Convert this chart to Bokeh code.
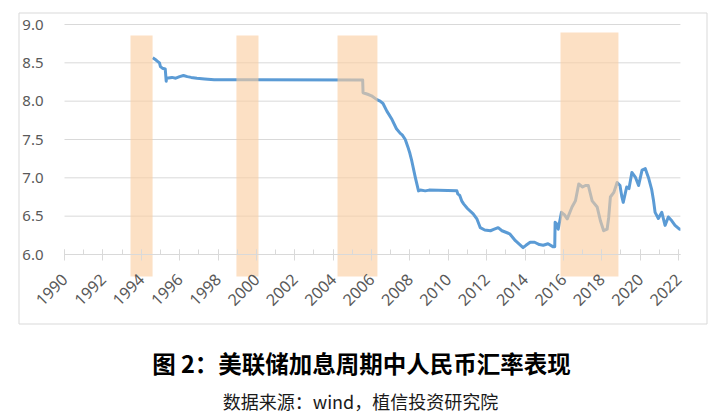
import math
from bokeh.plotting import figure
from bokeh.models import (FixedTicker, SingleIntervalTicker, NumeralTickFormatter, Label)
from bokeh.embed import file_html
from bokeh.resources import INLINE

# ---- data -------------------------------------------------------------
years = [1994.60, 1994.75, 1994.85, 1994.95, 1995.00, 1995.10, 1995.25, 1995.30,
         1995.32, 1995.60, 1995.80, 1996.00, 1996.20, 1996.40, 1996.60, 1996.90,
         1997.30, 1997.80, 2005.54, 2005.56, 2005.80, 2006.00, 2006.28, 2006.45,
         2006.60, 2006.80, 2007.07, 2007.30, 2007.50, 2007.60, 2007.76, 2007.90,
         2008.00, 2008.10, 2008.28, 2008.45, 2008.55, 2008.80, 2009.00, 2010.45,
         2010.50, 2010.60, 2010.70, 2010.80, 2011.00, 2011.30, 2011.50, 2011.67,
         2011.90, 2012.20, 2012.40, 2012.60, 2012.80, 2013.00, 2013.20, 2013.50,
         2013.90, 2014.05, 2014.27, 2014.50, 2014.75, 2014.95, 2015.20, 2015.47,
         2015.55, 2015.57, 2015.65, 2015.73, 2015.90, 2016.05, 2016.20, 2016.45,
         2016.63, 2016.80, 2017.00, 2017.15, 2017.30, 2017.50, 2017.76, 2017.93,
         2018.10, 2018.28, 2018.36, 2018.45, 2018.63, 2018.80, 2018.95, 2019.05,
         2019.12, 2019.30, 2019.42, 2019.57, 2019.75, 2019.92, 2020.10, 2020.27,
         2020.45, 2020.60, 2020.70, 2020.78, 2020.95, 2021.13, 2021.30, 2021.47,
         2021.65, 2021.82, 2022.05, 2022.10]
usdcny = [8.565, 8.54, 8.52, 8.50, 8.45, 8.43, 8.42, 8.26,
          8.30, 8.31, 8.30, 8.32, 8.335, 8.32, 8.31, 8.30,
          8.29, 8.28, 8.277, 8.11, 8.09, 8.07, 8.02, 8.00,
          7.97, 7.87, 7.76, 7.64, 7.58, 7.56, 7.50, 7.40,
          7.32, 7.22, 7.01, 6.83, 6.84, 6.83, 6.84, 6.83,
          6.79, 6.77, 6.70, 6.66, 6.60, 6.53, 6.46, 6.35,
          6.32, 6.31, 6.33, 6.35, 6.31, 6.29, 6.27, 6.18,
          6.09, 6.12, 6.16, 6.16, 6.13, 6.12, 6.14, 6.10,
          6.10, 6.42, 6.40, 6.33, 6.55, 6.52, 6.465, 6.62,
          6.70, 6.92, 6.88, 6.90, 6.90, 6.70, 6.62, 6.44,
          6.31, 6.33, 6.48, 6.75, 6.81, 6.94, 6.90, 6.75,
          6.68, 6.88, 6.86, 7.07, 7.01, 6.90, 7.10, 7.12,
          6.99, 6.85, 6.70, 6.55, 6.47, 6.55, 6.38, 6.49,
          6.44, 6.38, 6.33, 6.33]

band_start = [1993.44, 1998.96, 2004.23, 2015.85]
band_end = [1994.59, 2000.11, 2006.31, 2018.87]
band_top = [8.857, 8.857, 8.857, 8.896]
band_bottom = [5.713, 5.713, 5.713, 5.713]

y_ticks = [6.0, 6.5, 7.0, 7.5, 8.0, 8.5, 9.0]
x_first, x_last = 1990, 2022.1

title_text = "图 2：美联储加息周期中人民币汇率表现"
source_text = "数据来源：wind，植信投资研究院"

# ---- layout (pixels) --------------------------------------------------
W, H = 717, 417
PX_PER_YEAR = 19.1875      # 2 years = 38.4 px
PX_PER_UNIT = 76.667       # 0.5 = 38.3 px
X0_PX, Y9_PX = 64, 24      # where 1990 and 9.0 sit on the page
x_start = 1990 - X0_PX / PX_PER_YEAR
x_end = x_start + W / PX_PER_YEAR
y_end = 9.0 + Y9_PX / PX_PER_UNIT
y_start = y_end - H / PX_PER_UNIT


def px_x(px):
    return x_start + px / PX_PER_YEAR


def px_y(py):
    return y_end - py / PX_PER_UNIT


p = figure(width=W, height=H, output_backend="svg", toolbar_location=None,
           x_range=(x_start, x_end), y_range=(y_start, y_end),
           min_border_left=0, min_border_right=0, min_border_top=0,
           min_border_bottom=0)
p.background_fill_color = "white"
p.border_fill_color = "white"
p.outline_line_color = None
p.xgrid.visible = False
p.ygrid.visible = False

# chart box
p.quad(left=[px_x(18.5)], right=[px_x(706.5)], top=[px_y(12.5)], bottom=[px_y(323.5)],
       fill_color=None, line_color="#D9D9D9", line_width=1)

# horizontal grid lines limited to the plot area
p.segment(x0=[x_first] * len(y_ticks), x1=[x_last] * len(y_ticks),
          y0=y_ticks, y1=y_ticks, line_color="#D9D9D9", line_width=1)

# exchange-rate line
p.line(years, usdcny, line_color="#5B9BD5", line_width=3, line_join="round")

# Fed hiking cycles (semi-transparent, drawn over the line)
p.quad(left=band_start, right=band_end, top=band_top, bottom=band_bottom,
       fill_color=(250, 205, 160), fill_alpha=0.62, line_color=None)

# x axis at y=6.0
xa = p.xaxis[0]
xa.fixed_location = 6.0
xa.bounds = (x_first, x_last)
xa.ticker = SingleIntervalTicker(interval=2, num_minor_ticks=2)
xa.axis_line_color = "#D9D9D9"
xa.major_tick_line_color = "#D9D9D9"
xa.minor_tick_line_color = "#D9D9D9"
xa.major_tick_in = 5
xa.major_tick_out = 6
xa.minor_tick_in = 5
xa.minor_tick_out = 0
xa.major_label_orientation = math.pi / 4
xa.major_label_standoff = 16
xa.major_label_text_font = "Noto Sans"
xa.major_label_text_font_size = "16px"
xa.major_label_text_color = "#595959"

# y axis at x=1990
ya = p.yaxis[0]
ya.fixed_location = 1990
ya.ticker = FixedTicker(ticks=y_ticks)
ya.formatter = NumeralTickFormatter(format="0.0")
ya.axis_line_color = None
ya.major_tick_line_color = None
ya.minor_tick_line_color = None
ya.major_tick_in = 0
ya.major_tick_out = 0
ya.major_label_standoff = 21
ya.major_label_text_font = "Noto Sans"
ya.major_label_text_font_size = "15px"
ya.major_label_text_color = "#595959"

# title and source below the chart box
p.add_layout(Label(x=361, y=H - 362, x_units="screen", y_units="screen",
                   text=title_text, text_align="center", text_baseline="middle",
                   text_font="Noto Sans CJK SC", text_font_style="bold",
                   text_font_size="23.5px", text_color="#000000"))
p.add_layout(Label(x=360, y=H - 400, x_units="screen", y_units="screen",
                   text=source_text, text_align="center", text_baseline="middle",
                   text_font="Noto Sans CJK SC", text_font_size="18px",
                   text_color="#1a1a1a"))

open("out.html", "w").write(file_html(p, INLINE))
